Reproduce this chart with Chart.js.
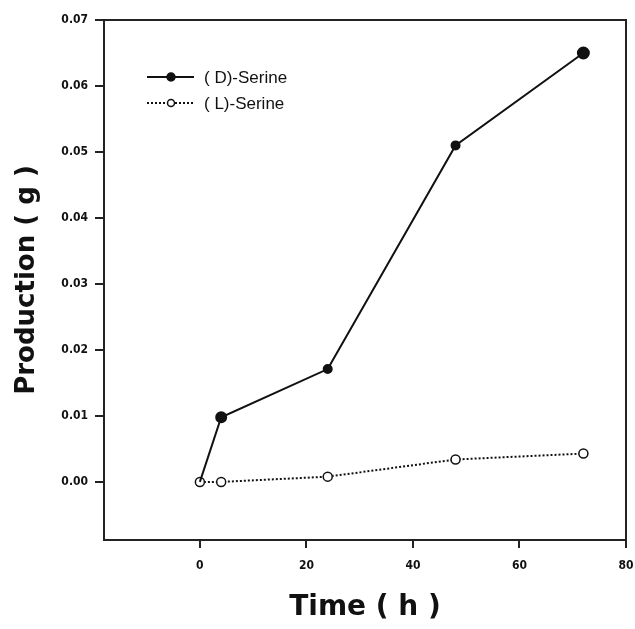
<!DOCTYPE html>
<html>
<head>
<meta charset="utf-8">
<script src="https://cdn.jsdelivr.net/npm/chart.js@4/dist/chart.umd.min.js"></script>
<style>
  html, body { margin: 0; padding: 0; background: #fff; }
  #wrap { width: 635px; height: 629px; }
</style>
</head>
<body>
<div id="wrap"><canvas id="c"></canvas></div>
<script>
// time points (h)
const timeD = [0, 4, 24, 48, 72];
const timeL = [0, 4, 24, 48, 72];
// production (g)
const dSerine = [0, 0.0098, 0.0171, 0.051, 0.0650];
const lSerine = [0, 0.0000, 0.0008, 0.0034, 0.0043];

const xTicks = [0, 20, 40, 60, 80];
const yTicks = [0, 0.01, 0.02, 0.03, 0.04, 0.05, 0.06, 0.07];

const seriesNames = ['( D)-Serine', '( L)-Serine'];

// box round the plot area
const framePlugin = {
    id: 'frame',
    afterDraw(chart) {
        const { ctx, chartArea: a } = chart;
        ctx.save();
        ctx.strokeStyle = '#222';
        ctx.lineWidth = 2;
        ctx.strokeRect(a.left, a.top, a.right - a.left, a.bottom - a.top);
        ctx.restore();
    }
};

// legend inside the plot, top left
const legendPlugin = {
    id: 'innerLegend',
    afterDraw(chart) {
        const ctx = chart.ctx;
        const x0 = 147, x1 = 194, xm = 171;
        const rows = [77, 103];
        ctx.save();
        chart.data.datasets.forEach((ds, i) => {
            const y = rows[i];
            ctx.strokeStyle = '#111';
            ctx.lineWidth = ds.borderWidth;
            ctx.setLineDash(ds.borderDash || []);
            ctx.beginPath();
            ctx.moveTo(x0, y);
            ctx.lineTo(x1, y);
            ctx.stroke();
            ctx.setLineDash([]);
            ctx.beginPath();
            ctx.arc(xm, y, i === 0 ? 4 : 3.5, 0, Math.PI * 2);
            ctx.fillStyle = ds.pointBackgroundColor;
            ctx.fill();
            ctx.lineWidth = 1.5;
            ctx.stroke();
            ctx.fillStyle = '#111';
            ctx.font = '17px "Liberation Sans", Arial, sans-serif';
            ctx.textBaseline = 'middle';
            ctx.fillText(seriesNames[i], 204, y + 1);
        });
        ctx.restore();
    }
};

const ctx = document.getElementById('c').getContext('2d');

new Chart(ctx, {
    type: 'scatter',
    data: {
        datasets: [{
            label: seriesNames[0],
            data: timeD.map((t, i) => ({ x: t, y: dSerine[i] })),
            showLine: true,
            borderColor: '#111',
            borderWidth: 2,
            pointRadius: [0, 5, 4, 4, 5.5],
            pointBackgroundColor: '#111',
            pointBorderColor: '#111',
            tension: 0
        }, {
            label: seriesNames[1],
            data: timeL.map((t, i) => ({ x: t, y: lSerine[i] })),
            showLine: true,
            borderColor: '#111',
            borderWidth: 2,
            borderDash: [2, 2],
            pointRadius: 4.5,
            pointBorderWidth: 1.5,
            pointBackgroundColor: '#fff',
            pointBorderColor: '#111',
            tension: 0
        }]
    },
    options: {
        responsive: true,
        maintainAspectRatio: false,
        animation: false,
        layout: { padding: { top: 20, right: 9, left: 0, bottom: 0 } },
        plugins: {
            legend: { display: false },
            tooltip: { enabled: false }
        },
        scales: {
            x: {
                type: 'linear',
                min: -18,
                max: 80,
                afterBuildTicks: s => { s.ticks = xTicks.map(v => ({ value: v })); },
                afterFit: s => { s.height = 89; s.paddingRight = 0; s.paddingLeft = 0; },
                border: { display: false },
                grid: {
                    drawOnChartArea: false,
                    drawTicks: true,
                    tickLength: 8,
                    color: '#222',
                    lineWidth: 2
                },
                ticks: {
                    color: '#111',
                    padding: 11,
                    font: { family: 'DejaVu Sans Condensed', weight: 'bold', size: 12 }
                },
                title: {
                    display: true,
                    text: 'Time ( h )',
                    color: '#111',
                    padding: { top: 12 },
                    font: { family: 'DejaVu Sans', weight: 'bold', size: 28 }
                }
            },
            y: {
                type: 'linear',
                min: -0.0088,
                max: 0.07,
                afterBuildTicks: s => { s.ticks = yTicks.map(v => ({ value: v })); },
                afterFit: s => { s.width = 104; s.paddingTop = 0; s.paddingBottom = 0; },
                border: { display: false },
                grid: {
                    drawOnChartArea: false,
                    drawTicks: true,
                    tickLength: 9,
                    color: '#222',
                    lineWidth: 2
                },
                ticks: {
                    color: '#111',
                    padding: 7,
                    callback: v => v.toFixed(2),
                    font: { family: 'DejaVu Sans Condensed', weight: 'bold', size: 12 }
                },
                title: {
                    display: true,
                    text: 'Production ( g )',
                    color: '#111',
                    padding: { top: 12, bottom: 10 },
                    font: { family: 'DejaVu Sans', weight: 'bold', size: 26 }
                }
            }
        }
    },
    plugins: [framePlugin, legendPlugin]
});
</script>
</body>
</html>
